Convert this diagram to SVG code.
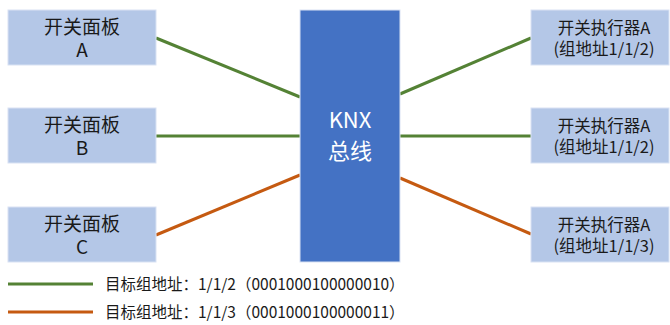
<svg xmlns="http://www.w3.org/2000/svg" width="670" height="325" viewBox="0 0 670 325">
<style>
.box{fill:#B4C7E7;stroke:#D9E2F3;stroke-width:1}
.bus{fill:#4472C4;stroke:#D9E2F3;stroke-width:1}
text{font-family:"Noto Sans CJK SC","Noto Sans",sans-serif;fill:#1a1a1a;text-anchor:middle}
.l{font-size:19px}
.r{font-size:16.5px}
.w{fill:#ffffff;font-size:22px}
.lg{font-size:15.5px;text-anchor:start}
.g{stroke:#548235;stroke-width:3;fill:none}
.o{stroke:#C55A11;stroke-width:3;fill:none}
</style>
<rect width="670" height="325" fill="#ffffff"/>
<g id="connectors">
<line class="g" x1="156" y1="38" x2="300" y2="97"/>
<line class="g" x1="156" y1="136" x2="300" y2="136"/>
<line class="o" x1="156" y1="235" x2="300" y2="175"/>
<line class="g" x1="400" y1="94" x2="531" y2="38"/>
<line class="g" x1="400" y1="136" x2="531" y2="136"/>
<line class="o" x1="400" y1="178" x2="531" y2="234"/>
</g>
<g id="panelA"><rect class="box" x="8" y="10" width="148" height="55"/><text class="l" x="82" y="34">开关面板</text><text class="l" x="82" y="57">A</text></g>
<g id="panelB"><rect class="box" x="8" y="108" width="148" height="55"/><text class="l" x="82" y="132">开关面板</text><text class="l" x="82" y="155">B</text></g>
<g id="panelC"><rect class="box" x="8" y="207" width="148" height="55"/><text class="l" x="82" y="231">开关面板</text><text class="l" x="82" y="254">C</text></g>
<g id="bus"><rect class="bus" x="300" y="10" width="100" height="252"/><text class="w" x="350" y="128">KNX</text><text class="w" x="350" y="159">总线</text></g>
<g id="actA"><rect class="box" x="531" y="10" width="138" height="55"/><text class="r" x="604" y="34">开关执行器A</text><text class="r" x="604" y="55">(组地址1/1/2)</text></g>
<g id="actB"><rect class="box" x="531" y="108" width="138" height="55"/><text class="r" x="604" y="132">开关执行器A</text><text class="r" x="604" y="153">(组地址1/1/2)</text></g>
<g id="actC"><rect class="box" x="531" y="207" width="138" height="55"/><text class="r" x="604" y="231">开关执行器A</text><text class="r" x="604" y="252">(组地址1/1/3)</text></g>
<g id="legend">
<line class="g" x1="8" y1="284" x2="93" y2="284"/>
<line class="o" x1="8" y1="312" x2="93" y2="312"/>
<text class="lg" x="105" y="290">目标组地址：1/1/2（0001000100000010）</text>
<text class="lg" x="105" y="318">目标组地址：1/1/3（0001000100000011）</text>
</g>
</svg>
